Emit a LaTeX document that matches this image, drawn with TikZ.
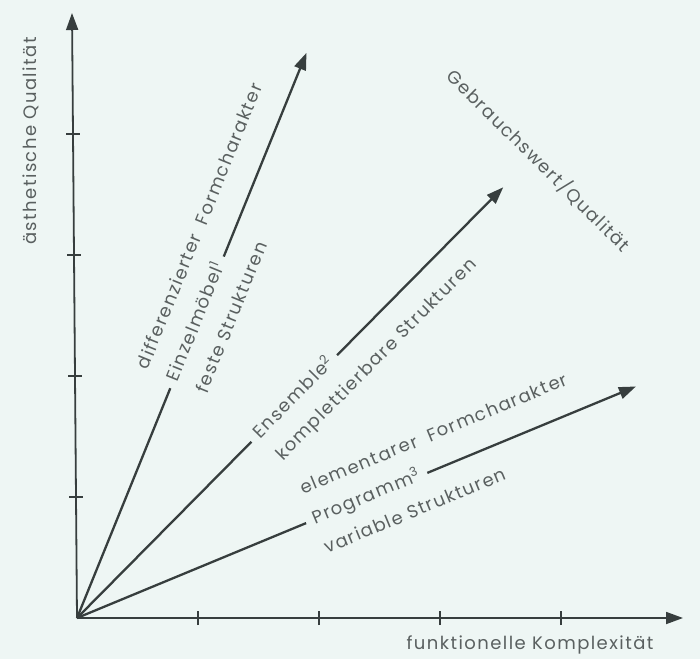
\documentclass[tikz,border=0pt]{standalone}
\usepackage{fontspec}
\setmainfont{Poppins}[LetterSpace=8]
\usetikzlibrary{arrows.meta,calc}
\definecolor{bg}{RGB}{238,246,244}
\definecolor{ink}{RGB}{55,62,62}
\definecolor{txt}{RGB}{90,96,96}
\begin{document}
\begin{tikzpicture}[x=1pt,y=1pt,
  ax/.style={line width=1.8pt, draw=ink},
  arr/.style={line width=2.3pt, draw=ink},
  tip/.style={-{Triangle[length=17pt,width=12pt]}},
  lbl/.style={text=txt, font=\fontsize{18}{22}\selectfont, inner ysep=0pt, inner xsep=8pt, text height=13pt, text depth=4pt},
  tickmark/.style={line width=1.4pt, draw=ink}]
\fill[bg] (0,0) rectangle (700,659);
\useasboundingbox (0,0) rectangle (700,659);
\coordinate (O) at (77,41);
\coordinate (ytip) at (72,646);
\coordinate (xtip) at (683,41);
\draw[ax,tip] (O) -- (ytip);
\draw[ax,tip] (O) -- (xtip);
\foreach \k in {1,...,4}{
  \draw[tickmark] ($(O)+(121*\k,-7)$) -- ++(0,14);
  \draw[tickmark] ($(O)!{\k*0.2}!(ytip)$) ++(-7,0) -- ++(14,0);
}
% steep arrow
\begin{scope}[shift={(O)}, rotate=67.9]
  \node[lbl, anchor=west, rotate=67.9] (ein) at (248,0) {Einzelmöbel\textsuperscript{1}};
  \node[lbl, anchor=west, rotate=67.9] (dif) at (248,32) {differenzierter\hspace{0.3em} Formcharakter};
  \node[lbl, anchor=west, rotate=67.9] (fes) at (248,-32) {feste Strukturen};
  \coordinate (t1) at (610,0);
\end{scope}
\draw[arr] (O) -- (ein.west);
\draw[arr,tip] (ein.east) -- (t1);
% middle arrow
\begin{scope}[shift={(O)}, rotate=45.3]
  \node[lbl, anchor=west, rotate=45.3] (ens) at (248,0) {Ensemble\textsuperscript{2}};
  \node[lbl, anchor=west, rotate=45.3] (kom) at (248,-32) {komplettierbare Strukturen};
  \coordinate (t2) at (606,0);
\end{scope}
\draw[arr] (O) -- (ens.west);
\draw[arr,tip] (ens.east) -- (t2);
% shallow arrow
\begin{scope}[shift={(O)}, rotate=22.5]
  \node[lbl, anchor=west, rotate=22.5] (pro) at (248,0) {Programm\textsuperscript{3}};
  \node[lbl, anchor=west, rotate=22.5] (ele) at (248,32) {elementarer\hspace{0.3em} Formcharakter};
  \node[lbl, anchor=west, rotate=22.5] (var) at (248,-32) {variable Strukturen};
  \coordinate (t3) at (605,0);
\end{scope}
\draw[arr] (O) -- (pro.west);
\draw[arr,tip] (pro.east) -- (t3);
% axis labels
\node[lbl, rotate=90] (ylab) at (32,518) {ästhetische Qualität};
\node[lbl] (xlab) at (530,14) {funktionelle Komplexität};
\node[lbl, rotate=-44.7] (geb) at (537,497) {Gebrauchswert/Qualität};
\end{tikzpicture}
\end{document}
